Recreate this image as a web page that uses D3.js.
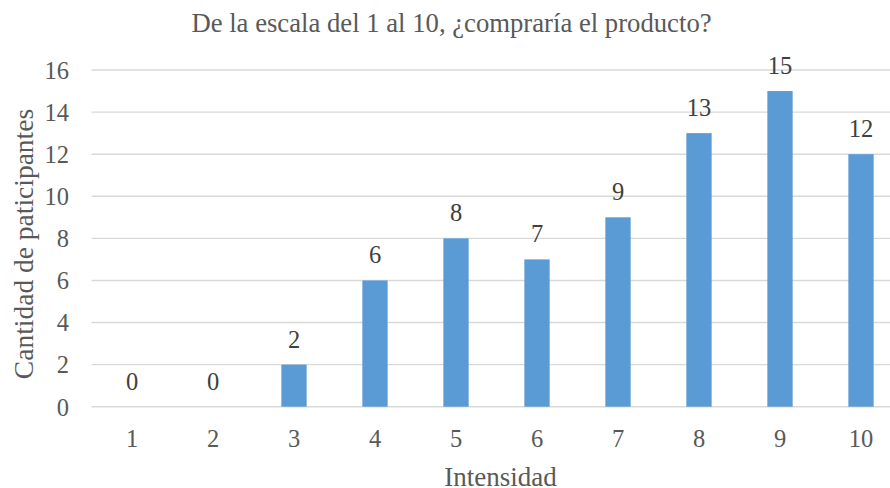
<!DOCTYPE html>
<html>
<head>
<meta charset="utf-8">
<script src="https://cdn.jsdelivr.net/npm/d3@7"></script>
<style>
  html, body { margin: 0; padding: 0; background: #fff; }
  svg { display: block; }
  text { font-family: "Liberation Serif", "Times New Roman", serif; }
</style>
</head>
<body>
<svg id="chart" width="890" height="488"></svg>
<script>
// Survey answers: how many participants chose each intensity level
const categories = ["1", "2", "3", "4", "5", "6", "7", "8", "9", "10"];
const participants = [0, 0, 2, 6, 8, 7, 9, 13, 15, 12];
const yTicks = [0, 2, 4, 6, 8, 10, 12, 14, 16];

const chartTitle = "De la escala del 1 al 10, ¿compraría el producto?";
const xTitle = "Intensidad";
const yTitle = "Cantidad de paticipantes";

const svg = d3.select("#chart");
const plot = { left: 91.5, right: 901.5, top: 70, bottom: 406.7 };

const x = d3.scaleBand()
  .domain(categories)
  .range([plot.left, plot.right])
  .paddingInner(0.6875)
  .paddingOuter(0.34375);

const y = d3.scaleLinear()
  .domain([0, 16])
  .range([plot.bottom, plot.top]);

// Horizontal gridlines (the 0 line doubles as the category axis)
svg.append("g")
  .selectAll("line")
  .data(yTicks)
  .join("line")
  .attr("x1", plot.left)
  .attr("x2", plot.right)
  .attr("y1", d => y(d))
  .attr("y2", d => y(d))
  .attr("stroke", "#d9d9d9")
  .attr("stroke-width", 1.4);

// Value axis labels
const yAxis = d3.axisLeft(y).tickValues(yTicks).tickSize(0).tickPadding(0);
const gy = svg.append("g")
  .attr("transform", `translate(${69},0)`)
  .call(yAxis);
gy.select(".domain").remove();
gy.selectAll("text")
  .attr("fill", "#595959")
  .attr("font-size", 24.5)
  .attr("font-family", "Liberation Serif, Times New Roman, serif")
  .attr("dy", "0.34em");

// Category axis labels
const xAxis = d3.axisBottom(x).tickSize(0).tickPadding(0);
const gx = svg.append("g")
  .attr("transform", `translate(0,${plot.bottom})`)
  .call(xAxis);
gx.select(".domain").remove();
gx.selectAll("text")
  .attr("fill", "#595959")
  .attr("font-size", 24.5)
  .attr("font-family", "Liberation Serif, Times New Roman, serif")
  .attr("dy", null)
  .attr("y", 40.5);

// Bars
svg.append("g")
  .selectAll("rect")
  .data(participants)
  .join("rect")
  .attr("x", (d, i) => x(categories[i]))
  .attr("width", x.bandwidth())
  .attr("y", d => y(d))
  .attr("height", d => y(0) - y(d))
  .attr("fill", "#5b9bd5");

// Value labels above each bar
svg.append("g")
  .selectAll("text")
  .data(participants)
  .join("text")
  .attr("x", (d, i) => x(categories[i]) + x.bandwidth() / 2)
  .attr("y", d => y(d) - 17)
  .attr("text-anchor", "middle")
  .attr("fill", "#404040")
  .attr("font-size", 24.5)
  .text(d => d);

// Chart title
svg.append("text")
  .attr("x", 451.5)
  .attr("y", 32)
  .attr("text-anchor", "middle")
  .attr("fill", "#595959")
  .attr("font-size", 26.7)
  .text(chartTitle);

// Axis titles
svg.append("text")
  .attr("x", 500.5)
  .attr("y", 485.5)
  .attr("text-anchor", "middle")
  .attr("fill", "#595959")
  .attr("font-size", 27)
  .text(xTitle);

svg.append("text")
  .attr("transform", `translate(33,244) rotate(-90)`)
  .attr("text-anchor", "middle")
  .attr("fill", "#595959")
  .attr("font-size", 27.5)
  .text(yTitle);
</script>
</body>
</html>
